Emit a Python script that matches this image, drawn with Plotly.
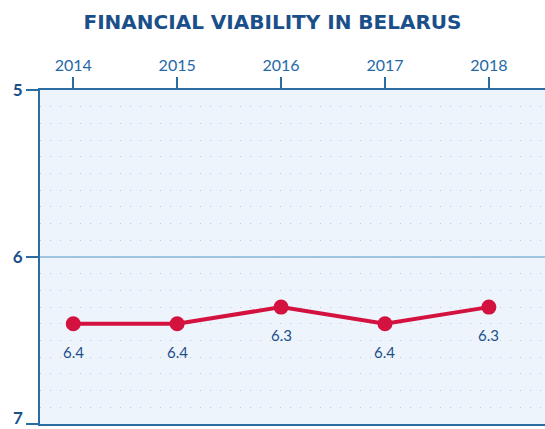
import plotly.graph_objects as go

years = [2014, 2015, 2016, 2017, 2018]
scores = [6.4, 6.4, 6.3, 6.4, 6.3]
labels = ["6.4", "6.4", "6.3", "6.4", "6.3"]
y_ticks = [5, 6, 7]
y_tick_text = ["5", "6", "7"]

AXIS = "#2b6ca3"
DARK = "#1b4f8a"
RED = "#d3123f"
YFONT = dict(family="Lato", size=17, color=DARK, weight="bold")

fig = go.Figure()
fig.add_trace(go.Scatter(
    x=years, y=scores, mode="lines+markers",
    line=dict(color=RED, width=4),
    marker=dict(color=RED, size=15),
    hoverinfo="skip", showlegend=False,
))
for x, y, t in zip(years, scores, labels):
    fig.add_annotation(x=x, y=y, text=t, showarrow=False, yshift=-28,
                       font=dict(family="Lato", size=15, color=DARK))

# bottom tick label drawn as annotation, nudged up so it stays inside the page
fig.add_annotation(xref="paper", x=0, xanchor="right", xshift=-15,
                   y=y_ticks[-1], yanchor="middle", yshift=7,
                   text=y_tick_text[-1], showarrow=False, font=YFONT)

fig.add_shape(type="line", xref="paper", x0=0, x1=1, yref="y", y0=6, y1=6,
              line=dict(color="#9fc4e2", width=2), layer="below")

fig.update_layout(
    width=545, height=429,
    margin=dict(l=40, r=0, t=90, b=5, autoexpand=False),
    paper_bgcolor="white", plot_bgcolor="#eef4fb",
    title=dict(text="<b>FINANCIAL VIABILITY IN BELARUS</b>", x=0.5, xanchor="center",
               y=0.948, yanchor="middle",
               font=dict(family="DejaVu Sans", size=20, color=DARK)),
    xaxis=dict(side="top", range=[2013.68, 2018.54], tickvals=years,
               ticks="outside", ticklen=11, tickwidth=2, tickcolor=AXIS,
               showline=True, linecolor=AXIS, linewidth=2, mirror=True,
               showgrid=False, zeroline=False, automargin=False,
               tickfont=dict(family="Lato", size=16, color="#2468a6")),
    yaxis=dict(range=[7, 5], tickvals=y_ticks,
               ticktext=y_tick_text[:-1] + [""],
               ticks="outside", ticklen=12,
               tickwidth=2, tickcolor=AXIS, showline=True, linecolor=AXIS,
               linewidth=2, showgrid=False, zeroline=False, automargin=False,
               ticklabeloverflow="allow", tickfont=YFONT,
               minor=dict(dtick=0.1, showgrid=True, gridcolor="#b9c9da",
                          griddash="1px,9px", gridwidth=1)),
)
fig.write_html("out.html", config={"displayModeBar": False},
               post_script="document.body.style.margin='0';document.body.style.overflow='hidden';")
